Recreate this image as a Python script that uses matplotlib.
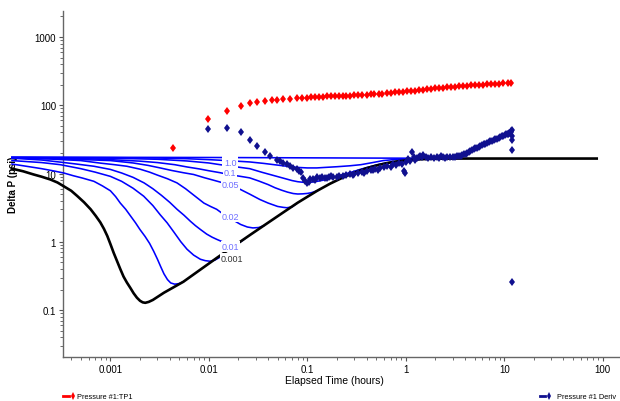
import matplotlib
matplotlib.use('Agg')
import matplotlib.pyplot as plt
from matplotlib.lines import Line2D
from matplotlib.ticker import LogLocator, NullFormatter

plt.rcParams['font.family'] = ['Liberation Sans', 'DejaVu Sans']

# pressure (red) data
press_t = [0.0043, 0.0097, 0.0154, 0.021, 0.026, 0.031, 0.037, 0.044, 0.049, 0.057,
           0.067, 0.078, 0.088, 0.099, 0.11, 0.12, 0.13, 0.145, 0.16, 0.175,
           0.19, 0.21, 0.23, 0.25, 0.27, 0.30, 0.33, 0.36, 0.40, 0.44,
           0.48, 0.53, 0.58, 0.64, 0.70, 0.77, 0.85, 0.93, 1.02, 1.12,
           1.23, 1.35, 1.5, 1.65, 1.8, 2.0, 2.2, 2.4, 2.65, 2.9,
           3.2, 3.5, 3.85, 4.2, 4.6, 5.1, 5.6, 6.1, 6.7, 7.4,
           8.1, 8.9, 9.8, 10.8, 11.8]
press_v = [24, 63, 83, 98, 107, 111, 114, 118, 120, 123,
           124, 127, 129, 130, 131, 132, 133, 134, 135, 136,
           137, 137, 138, 139, 139, 140, 141, 142, 143, 144,
           145, 146, 148, 150, 152, 154, 156, 158, 160, 162,
           164, 166, 169, 172, 175, 178, 180, 182, 184, 186,
           188, 190, 192, 194, 196, 198, 199, 201, 203, 204,
           206, 207, 209, 210, 212]

# derivative (navy) data
deriv_t = [0.0097, 0.0154, 0.021, 0.026, 0.031, 0.037, 0.042, 0.049, 0.053, 0.057,
           0.062, 0.067, 0.072, 0.078, 0.083, 0.087, 0.091, 0.095, 0.099, 0.103,
           0.107, 0.115, 0.12, 0.126, 0.135, 0.142, 0.15, 0.157, 0.165, 0.175,
           0.184, 0.2, 0.21, 0.23, 0.25, 0.27, 0.29, 0.3, 0.33, 0.36,
           0.38, 0.4, 0.44, 0.47, 0.49, 0.52, 0.55, 0.6, 0.65, 0.7,
           0.75, 0.8, 0.86, 0.92, 0.96, 0.98, 1.0, 1.05, 1.1, 1.16,
           1.2, 1.25, 1.3, 1.35, 1.4, 1.45, 1.5, 1.6, 1.7, 1.8,
           1.95, 2.1, 2.2, 2.3, 2.4, 2.5, 2.6, 2.8, 3.0, 3.15,
           3.3, 3.45, 3.6, 3.75, 3.9, 4.05, 4.2, 4.35, 4.5, 4.7,
           4.9, 5.1, 5.3, 5.5, 5.7, 5.95, 6.2, 6.45, 6.7, 6.95,
           7.2, 7.5, 7.8, 8.1, 8.4, 8.75, 9.1, 9.45, 9.8, 10.15,
           10.5, 10.8, 11.0, 11.2, 11.4, 11.6, 11.8, 11.9, 11.9, 11.9,
           11.9, 11.9]
deriv_v = [45, 47, 41, 31.5, 25.5, 21, 17.9, 16, 15.3, 14.5,
           13.6, 12.8, 12.2, 11.5, 11.0, 10.5, 8.6, 7.8, 7.3, 7.6,
           8.2, 8.4, 8.1, 9.0, 8.6, 8.9, 8.7, 8.5, 8.8, 9.1,
           8.9, 9.0, 9.3, 9.2, 9.4, 9.7, 9.5, 9.9, 10.2, 10.4,
           10.1, 10.8, 11.1, 11.4, 11.6, 11.3, 12.1, 12.6, 13.0, 12.6,
           14.0, 13.4, 14.5, 13.8, 11.0, 10.2, 14.8, 16.2, 15.1, 21.0,
           17.5, 16.0, 16.9, 17.6, 18.2, 17.2, 18.9, 17.5, 16.9, 17.6,
           16.8, 17.3, 16.9, 17.8, 17.6, 17.0, 17.2, 17.5, 17.4, 17.7,
           17.9, 18.0, 18.3, 18.7, 19.2, 19.6, 20.2, 20.6, 21.2, 21.8,
           22.6, 23.3, 24.0, 24.5, 25.0, 25.9, 26.8, 27.5, 28.2, 28.9,
           29.5, 30.2, 31.0, 31.8, 32.5, 33.4, 34.3, 35.2, 36.0, 36.8,
           37.5, 38.0, 38.6, 39.0, 39.3, 40.2, 41.5, 44, 36, 31.4,
           22.4, 0.26]

# black type curve
black_t = [1e-4, 1.3e-4, 1.66e-4, 2.0e-4, 2.45e-4, 2.9e-4, 3.37e-4, 4.0e-4, 4.6e-4, 5.4e-4,
           6.3e-4, 7.1e-4, 7.9e-4, 8.6e-4, 9.3e-4, 1.0e-3, 1.08e-3, 1.17e-3, 1.26e-3, 1.36e-3,
           1.47e-3, 1.6e-3, 1.72e-3, 1.86e-3, 2.0e-3, 2.13e-3, 2.26e-3, 2.45e-3, 2.7e-3, 3.5e-3,
           5.5e-3, 0.0122, 0.027, 0.057, 0.08, 0.126, 0.17, 0.22, 0.3, 0.4,
           0.5, 0.65, 0.8, 1.0, 1.3, 1.7, 2.2, 3.0, 87]
black_v = [11.8, 10.8, 9.7, 9.0, 8.2, 7.4, 6.5, 5.6, 4.7, 3.8,
           3.0, 2.4, 1.93, 1.55, 1.22, 0.93, 0.69, 0.52, 0.40, 0.31,
           0.254, 0.21, 0.177, 0.152, 0.137, 0.130, 0.128, 0.132, 0.141, 0.18,
           0.26, 0.59, 1.3, 2.7, 3.75, 5.6, 7.1, 8.5, 10.3, 12.0,
           13.1, 14.3, 15.0, 15.6, 16.1, 16.4, 16.55, 16.6, 16.6]

# blue type curves
curve_a_t = [1e-4, 0.01, 0.1, 1.0, 1.5]
curve_a_v = [17.4, 17.2, 17.0, 16.8, 16.7]
curve_b_t = [1e-4, 1e-3, 3e-3, 6e-3, 0.01, 0.0165, 0.026, 0.036, 0.05, 0.065,
             0.08, 0.1, 0.125, 0.15, 0.2, 0.27, 0.35, 0.45, 0.59, 0.75, 1.0]
curve_b_v = [17.3, 17.1, 16.9, 16.5, 16.0, 15.4, 14.8, 14.1, 13.3, 12.7,
             12.3, 12.1, 12.1, 12.3, 12.6, 13.0, 13.5, 14.4, 15.5, 16.0, 16.4]
curve_c_t = [1e-4, 1e-3, 3e-3, 6e-3, 0.01, 0.013, 0.0165, 0.021, 0.026, 0.035,
             0.049, 0.06, 0.07, 0.08, 0.091, 0.105, 0.12, 0.145, 0.18, 0.22,
             0.27, 0.35, 0.45, 0.55, 0.7, 0.85, 1.0, 1.2, 1.5]
curve_c_v = [17.2, 16.8, 16.2, 15.3, 14.3, 13.5, 12.9, 12.3, 11.8, 10.4,
             9.1, 8.4, 7.9, 7.6, 7.45, 7.45, 7.6, 8.0, 8.7, 9.5,
             10.3, 11.6, 12.8, 13.8, 14.6, 15.2, 15.6, 16.0, 16.3]
curve_d_t = [1e-4, 5e-4, 1e-3, 2e-3, 3e-3, 4.5e-3, 6e-3, 8e-3, 0.01, 0.013,
             0.0165, 0.021, 0.026, 0.032, 0.04, 0.047, 0.055, 0.063, 0.072, 0.08,
             0.09, 0.1, 0.11, 0.126]
curve_d_v = [17.0, 16.6, 16.0, 15.2, 14.5, 13.5, 12.5, 11.7, 11.0, 10.3,
             9.6, 9.1, 8.65, 7.8, 6.9, 6.2, 5.7, 5.35, 5.1, 5.02,
             5.05, 5.12, 5.25, 5.6]
curve_e_t = [1e-4, 3e-4, 1e-3, 1.7e-3, 2.4e-3, 3.2e-3, 4.2e-3, 5.5e-3, 7e-3, 9e-3,
             0.0115, 0.014, 0.0165, 0.021, 0.026, 0.033, 0.04, 0.05, 0.057, 0.062,
             0.07, 0.078]
curve_e_v = [17.0, 16.5, 15.5, 14.3, 13.2, 12.1, 11.1, 10.3, 9.7, 8.7,
             7.9, 7.3, 6.9, 5.84, 5.0, 4.17, 3.7, 3.3, 3.2, 3.16,
             3.25, 3.65]
curve_f_t = [1e-4, 2.5e-4, 5e-4, 8e-4, 1.1e-3, 1.47e-3, 2e-3, 2.5e-3, 3e-3, 3.8e-3,
             4.75e-3, 5.8e-3, 7.2e-3, 8.9e-3, 0.0104, 0.012, 0.0135, 0.0153, 0.018, 0.021,
             0.0246, 0.028, 0.032, 0.036]
curve_f_v = [17.0, 16.3, 15.5, 14.2, 13.5, 12.8, 11.6, 10.5, 9.5, 8.4,
             7.3, 6.0, 4.7, 3.7, 3.3, 3.0, 2.65, 2.37, 2.05, 1.8,
             1.65, 1.6, 1.62, 1.72]
curve_g_t = [1e-4, 2e-4, 3e-4, 4.5e-4, 6.8e-4, 1e-3, 1.3e-3, 1.7e-3, 2.2e-3, 2.7e-3,
             3.3e-3, 4e-3, 4.75e-3, 5.6e-3, 6.5e-3, 7.3e-3, 8.2e-3, 9.5e-3, 0.0108, 0.012,
             0.014, 0.0165, 0.019, 0.021, 0.023]
curve_g_v = [16.8, 15.8, 14.8, 13.8, 12.8, 11.5, 10.2, 8.8, 7.3, 6.0,
             4.8, 3.8, 3.0, 2.45, 2.0, 1.73, 1.52, 1.3, 1.17, 1.09,
             0.99, 0.93, 0.94, 1.0, 1.1]
curve_h_t = [1e-4, 2e-4, 3.1e-4, 5e-4, 7e-4, 1e-3, 1.3e-3, 1.7e-3, 2.18e-3, 2.7e-3,
             3.2e-3, 3.77e-3, 4.4e-3, 5.2e-3, 6e-3, 7e-3, 8.2e-3, 9.2e-3, 0.0103, 0.0115,
             0.0128, 0.014]
curve_h_v = [15.5, 14.5, 13.5, 11.8, 10.5, 9.1, 7.7, 6.1, 4.66, 3.4,
             2.5, 1.9, 1.4, 1.0, 0.78, 0.64, 0.556, 0.53, 0.52, 0.54,
             0.59, 0.65]
curve_i_t = [1e-4, 1.5e-4, 2e-4, 2.6e-4, 3.36e-4, 4.2e-4, 5.2e-4, 6.8e-4, 8.3e-4, 1e-3,
             1.13e-3, 1.26e-3, 1.43e-3, 1.6e-3, 1.8e-3, 2e-3, 2.25e-3, 2.5e-3, 2.75e-3, 3e-3,
             3.25e-3, 3.5e-3, 3.8e-3, 4.1e-3, 4.5e-3, 5.0e-3, 5.5e-3]
curve_i_v = [13.8, 12.6, 11.8, 11.0, 10.2, 9.3, 8.6, 7.7, 6.6, 5.6,
             4.6, 3.7, 3.0, 2.4, 1.9, 1.51, 1.2, 0.95, 0.73, 0.56,
             0.43, 0.34, 0.28, 0.25, 0.24, 0.245, 0.26]

blue_curves = [(curve_a_t, curve_a_v), (curve_b_t, curve_b_v), (curve_c_t, curve_c_v),
               (curve_d_t, curve_d_v), (curve_e_t, curve_e_v), (curve_f_t, curve_f_v),
               (curve_g_t, curve_g_v), (curve_h_t, curve_h_v), (curve_i_t, curve_i_v)]

curve_labels = ['0.1', '1.0', '0.05', '0.02', '0.01', '0.001']
label_t = [0.0165, 0.0165, 0.0165, 0.0165, 0.0165, 0.0173]
label_v = [10.5, 14.5, 6.9, 2.36, 0.86, 0.575]

x_ticks = [0.001, 0.01, 0.1, 1, 10, 100]
x_tick_labels = ['0.001', '0.01', '0.1', '1', '10', '100']
y_ticks = [0.1, 1, 10, 100, 1000]
y_tick_labels = ['0.1', '1', '10', '100', '1000']

fig = plt.figure(figsize=(6.2, 4.02), dpi=100)
ax = fig.add_axes([0.1016, 0.1095, 0.8984, 0.8605])
ax.set_xscale('log')
ax.set_yscale('log')

for t, v in blue_curves:
    ax.plot(t, v, color='#0000ff', lw=1.15, clip_on=False, zorder=3)
ax.plot(black_t, black_v, color='black', lw=1.9, clip_on=False, zorder=4)

ax.plot(press_t, press_v, ls='none', marker='d', ms=4.5, color='#ff0000', mew=0, zorder=5)
ax.plot(deriv_t, deriv_v, ls='none', marker='d', ms=4.5, color='#10108f', mew=0, zorder=5)

for i, lab in enumerate(curve_labels):
    col = '#333333' if lab == '0.001' else '#7070ff'
    pad = 1.4 if lab == '1.0' else 0.6
    ax.text(label_t[i], label_v[i], lab, fontsize=6.5, color=col, ha='center', va='center',
            zorder=6, bbox=dict(facecolor='white', edgecolor='none', pad=pad))

ax.set_xlim(3.3e-4, 150)
ax.set_ylim(0.0206, 2400)

ax.set_xticks(x_ticks)
ax.set_xticklabels(x_tick_labels)
ax.set_yticks(y_ticks)
ax.set_yticklabels(y_tick_labels)
ax.xaxis.set_minor_locator(LogLocator(base=10, subs=range(2, 10), numticks=20))
ax.yaxis.set_minor_locator(LogLocator(base=10, subs=range(2, 10), numticks=20))
ax.xaxis.set_minor_formatter(NullFormatter())
ax.yaxis.set_minor_formatter(NullFormatter())
ax.tick_params(which='major', length=3, width=0.8, color='#555555', labelsize=7, pad=2)
ax.tick_params(which='minor', length=2, width=0.6, color='#555555')

for s in ['top', 'right']:
    ax.spines[s].set_visible(False)
for s in ['left', 'bottom']:
    ax.spines[s].set_color('#666666')
    ax.spines[s].set_linewidth(1.0)

ax.set_xlabel('Elapsed Time (hours)', fontsize=7.5)
ax.xaxis.set_label_coords(0.488, -0.052)
ax.set_ylabel('Delta P (psi)', fontsize=7, fontweight='bold')
ax.yaxis.set_label_coords(-0.081, 0.5)
ax.yaxis.label.set_zorder(1)

# legend entries at the bottom
fig.add_artist(Line2D([0.102, 0.111], [0.0124, 0.0124], color='#ff0000', lw=2))
fig.add_artist(Line2D([0.117], [0.0135], color='#ff0000', marker='d', ms=4, mew=0))
fig.text(0.124, 0.0124, 'Pressure #1:TP1', fontsize=5.3, va='center')
fig.add_artist(Line2D([0.871, 0.879], [0.0124, 0.0124], color='#10108f', lw=2))
fig.add_artist(Line2D([0.886], [0.0135], color='#10108f', marker='d', ms=4, mew=0))
fig.text(0.993, 0.0124, 'Pressure #1 Deriv', fontsize=5.3, va='center', ha='right')

fig.savefig('out.png', dpi=100)
